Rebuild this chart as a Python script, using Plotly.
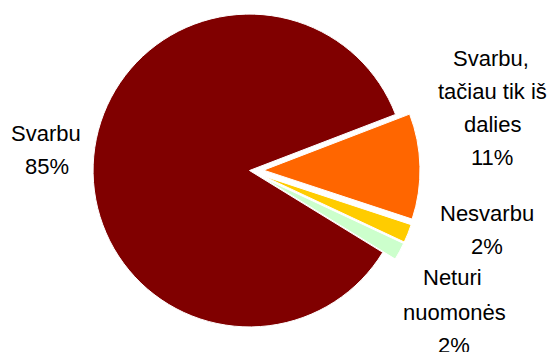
import plotly.graph_objects as go

labels = ["Svarbu, tačiau tik iš dalies", "Nesvarbu", "Neturi nuomonės", "Svarbu"]
values = [10.9, 1.9, 1.8, 85.4]
colors = ["#FF6600", "#FFCC00", "#CCFFCC", "#800000"]
pulls = [0.09, 0.09, 0.09, 0.0]

# label text lines and their visual centres (px)
label_lines = [
    ("Svarbu", 46, 135), ("85%", 47, 168),
    ("Svarbu,", 491, 59), ("tačiau tik iš", 492, 92), ("dalies", 492, 125), ("11%", 492, 158),
    ("Nesvarbu", 487, 214), ("2%", 487, 247),
    ("Neturi", 452, 278), ("nuomonės", 454, 313), ("2%", 454, 346),
]

W, H = 560, 352
fig = go.Figure(go.Pie(
    labels=labels, values=values, sort=False, direction="clockwise", rotation=69,
    pull=pulls, marker=dict(colors=colors, line=dict(color="white", width=1)),
    textinfo="none", hoverinfo="label+percent", showlegend=False,
    domain=dict(x=[77.5 / W, 421.5 / W], y=[1 - 341 / H, 1.0]),
))

for txt, px, py in label_lines:
    fig.add_annotation(x=px / W, y=1 - (py - 1) / H, xref="paper", yref="paper",
                       text=txt, showarrow=False, xanchor="center", yanchor="middle",
                       font=dict(family="Liberation Sans, Arial", size=22, color="black"))

fig.update_layout(width=W, height=H, margin=dict(l=0, r=0, t=0, b=0),
                  paper_bgcolor="white", plot_bgcolor="white")
fig.write_html("out.html")
